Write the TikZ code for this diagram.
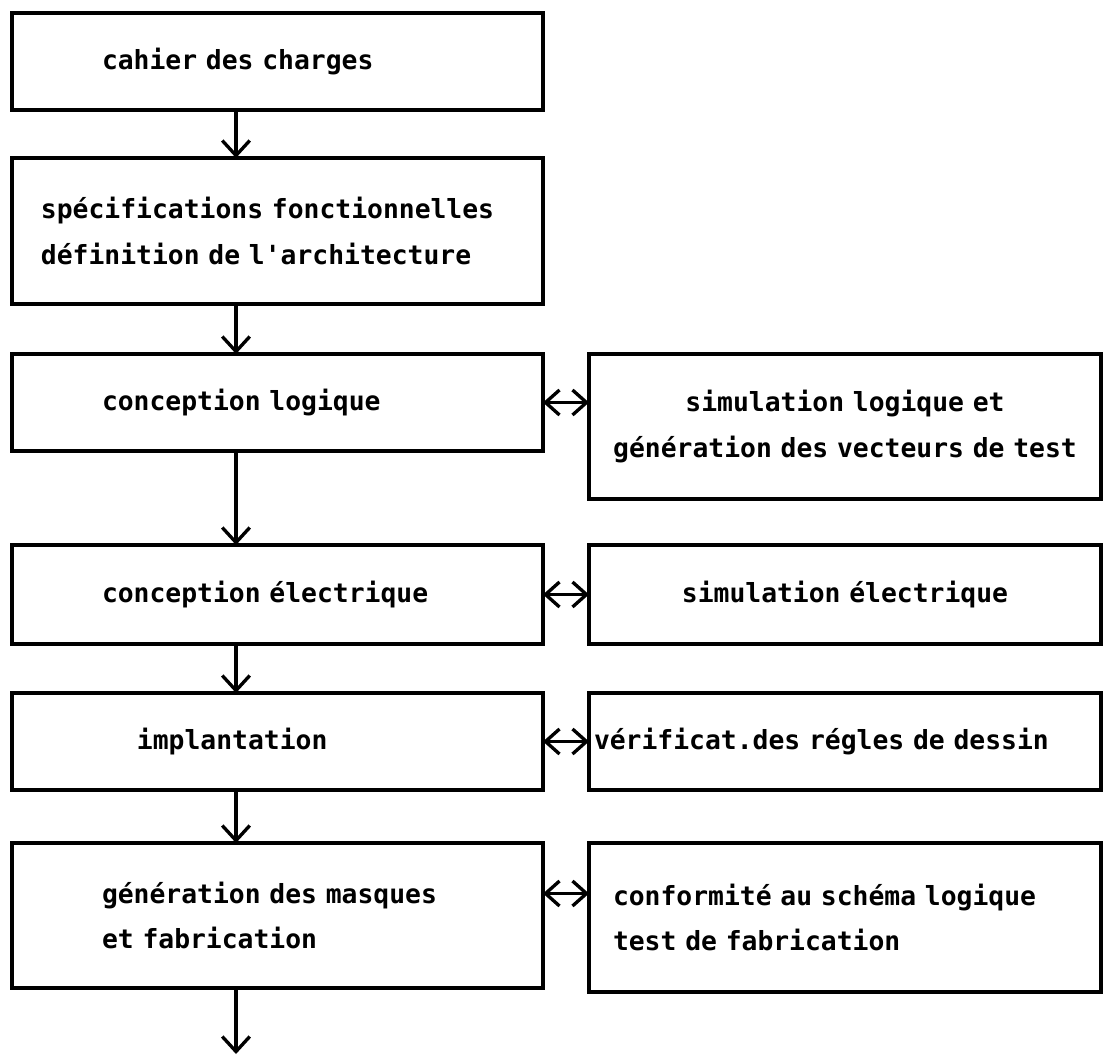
\documentclass[tikz,border=0pt]{standalone}
\usepackage{fontspec}
\setmonofont{DejaVu Sans Mono}
\usetikzlibrary{positioning, arrows.meta, calc}
\newcommand{\indentby}[1]{\hspace*{#1}}
% typewriter text: every space as wide as a letter
\newcommand{\typewriter}{\ttfamily\bfseries\fontsize{15}{26}\selectfont
  \fontdimen2\font=9.03pt \fontdimen3\font=0pt \fontdimen4\font=0pt }

\begin{document}
\begin{tikzpicture}
    % Styles
    \tikzstyle{stage} = [rectangle, draw=black, line width=2pt, outer sep=0pt,
    minimum width=10.62cm, inner xsep=0pt, text width=10.62cm, align=left,
    font=\typewriter]
    \tikzstyle{check} = [stage, minimum width=10.24cm, text width=10.24cm]
    \tikzstyle{flow} = [line width=1.9pt, -{Straight Barb[length=0.3cm, width=0.55cm]}]
    \tikzstyle{both} = [line width=1.9pt,
    {Straight Barb[length=0.28cm, width=0.5cm]}-{Straight Barb[length=0.28cm, width=0.5cm]}]

    \useasboundingbox (0,0) rectangle (22.08,-21.14);
    \coordinate (spine) at (4.72,0);

    % Nodes
    \node (cahier) [stage, minimum height=1.94cm, anchor=north west] at (0.24,-0.26)
    {\indentby{1.8cm}cahier des charges};
    \node (specs) [stage, minimum height=2.92cm, below=0.96cm of cahier]
    {\indentby{0.58cm}spécifications fonctionnelles\\
     \indentby{0.58cm}définition de l'architecture};
    \node (logique) [stage, minimum height=1.94cm, below=1cm of specs]
    {\indentby{1.8cm}conception logique};
    \node (electrique) [stage, minimum height=1.98cm, below=1.88cm of logique]
    {\indentby{1.8cm}conception électrique};
    \node (implant) [stage, minimum height=1.94cm, below=0.98cm of electrique]
    {\indentby{2.5cm}implantation};
    \node (masques) [stage, minimum height=2.9cm, below=1.06cm of implant]
    {\indentby{1.8cm}génération des masques\\
     \indentby{1.8cm}et fabrication};

    \node (simlog) [check, align=center, minimum height=2.9cm,
    right=0.92cm of logique.north east, anchor=north west]
    {simulation logique et\\génération des vecteurs de test};
    \node (simelec) [check, align=center, minimum height=1.98cm, right=0.92cm of electrique]
    {simulation électrique};
    \node (regles) [check, minimum height=1.94cm, right=0.92cm of implant]
    {\indentby{0.1cm}vérificat.des régles de dessin};
    \node (conform) [check, minimum height=2.98cm,
    right=0.92cm of masques.north east, anchor=north west]
    {\indentby{0.48cm}conformité au schéma logique\\
     \indentby{0.48cm}test de fabrication};

    \coordinate (sortie) at ($(masques.south -| spine)+(0,-1.32)$);

    % Arrows
    \draw[flow] (cahier.south -| spine) -- (specs.north -| spine);
    \draw[flow] (specs.south -| spine) -- (logique.north -| spine);
    \draw[flow] (logique.south -| spine) -- (electrique.north -| spine);
    \draw[flow] (electrique.south -| spine) -- (implant.north -| spine);
    \draw[flow] (implant.south -| spine) -- (masques.north -| spine);
    \draw[flow] (masques.south -| spine) -- (sortie);

    \draw[both] (logique.east) -- (logique.east -| simlog.west);
    \draw[both] (electrique) -- (simelec);
    \draw[both] (implant) -- (regles);
    \draw[both] ($(masques.east)+(0,0.44)$) -- ($(masques.east -| conform.west)+(0,0.44)$);
\end{tikzpicture}
\end{document}
